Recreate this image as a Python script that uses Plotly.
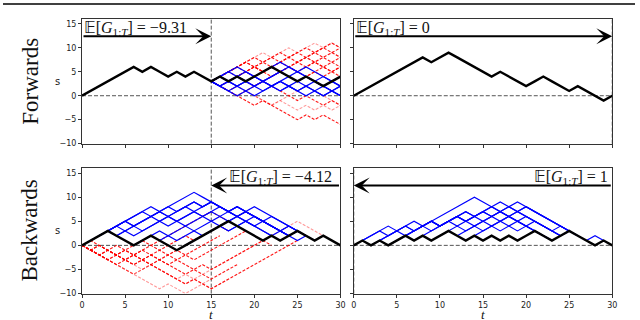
import plotly.graph_objects as go

# ---- data ----
# Forwards, left panel: realised path t=0..30 (t>15 is the rollout kept)
fwd_black = [0, 1, 2, 3, 4, 5, 6, 5, 6, 5, 4, 5, 4, 5, 4, 3,
             4, 3, 4, 3, 4, 5, 6, 5, 4, 3, 4, 3, 2, 3, 4]
fwd_start = 15
fwd_blue = [
    [3, 4, 5, 4, 5, 4, 5, 6, 7, 6, 5, 4, 3, 2, 1, 0],
    [3, 2, 3, 2, 1, 0, 1, 2, 3, 2, 1, 0, 1, 0, 1, 0],
    [3, 2, 1, 2, 3, 4, 3, 2, 1, 2, 3, 4, 3, 2, 1, 2],
    [3, 4, 3, 2, 3, 2, 1, 2, 3, 4, 5, 4, 3, 2, 1, 0],
    [3, 2, 3, 4, 3, 4, 3, 4, 5, 4, 3, 2, 1, 0, 1, 2],
    [3, 4, 5, 6, 5, 4, 3, 2, 1, 2, 1, 2, 3, 4, 3, 2],
    [3, 2, 1, 0, 1, 2, 3, 2, 3, 2, 1, 2, 1, 2, 3, 4],
    [3, 4, 3, 4, 3, 2, 3, 4, 5, 6, 5, 6, 5, 4, 3, 2],
]
fwd_red = [
    [3, 4, 5, 6, 7, 8, 7, 8, 7, 8, 9, 8, 9, 10, 9, 10],
    [3, 4, 5, 6, 5, 6, 7, 6, 7, 8, 7, 8, 7, 6, 5, 6],
    [3, 2, 1, 0, 1, 2, 3, 4, 5, 6, 7, 6, 7, 8, 7, 8],
    [3, 2, 1, 0, -1, -2, -1, -2, -3, -4, -5, -4, -5, -4, -5, -6],
    [3, 4, 5, 6, 7, 6, 5, 6, 5, 4, 3, 4, 5, 4, 5, 4],
    [3, 4, 3, 4, 5, 4, 5, 6, 7, 6, 7, 8, 9, 8, 9, 8],
    [3, 4, 5, 4, 5, 6, 5, 4, 5, 6, 5, 6, 7, 6, 7, 6],
    [3, 4, 5, 6, 7, 6, 7, 8, 9, 8, 9, 10, 9, 10, 11, 10],
    [3, 2, 3, 4, 5, 6, 5, 6, 5, 6, 5, 4, 5, 6, 5, 6],
    [3, 2, 1, 2, 3, 2, 3, 2, 1, 0, -1, 0, -1, -2, -1, -2],
]
fwd_red_light = [
    [3, 4, 3, 2, 1, 0, -1, -2, -1, -2, -3, -2, -3, -2, -3, -2],
    [3, 4, 5, 6, 7, 8, 9, 8, 9, 10, 9, 10, 11, 10, 11, 10],
    [3, 2, 3, 4, 3, 4, 5, 6, 5, 6, 7, 8, 7, 8, 9, 8],
    [3, 2, 1, 2, 1, 0, -1, -2, -1, 0, 1, 2, 1, 0, -1, -2],
]

# Forwards, right panel
fwd_right_black = [0, 1, 2, 3, 4, 5, 6, 7, 8, 7, 8, 9, 8, 7, 6, 5, 4, 5, 4, 3,
                   2, 3, 4, 3, 2, 1, 2, 1, 0, -1, 0]

# Backwards, left panel
bwd_black = [0, 1, 2, 3, 2, 1, 0, 1, 2, 1, 0, -1, 0, 1, 2, 3, 4, 5, 4, 3,
             2, 1, 2, 1, 2, 3, 2, 1, 2, 1, 0]
bwd_blue_start = [1, 2, 3, 3, 6, 9, 2, 1, 4, 12]
bwd_blue = [
    [1, 2, 3, 4, 5, 6, 7, 8, 7, 8, 9, 10, 11, 10, 9, 8, 7, 6, 5, 4, 3, 2],
    [2, 3, 4, 5, 4, 5, 6, 7, 6, 7, 8, 9, 8, 9, 8, 7, 8, 7, 8, 7, 6, 5, 4, 3, 2, 1],
    [3, 2, 3, 4, 5, 6, 5, 6, 5, 6, 7, 6, 7, 6, 7, 8, 7, 6, 5, 4, 3, 2, 3, 2],
    [3, 4, 3, 2, 3, 4, 5, 4, 5, 4, 5, 6, 5, 6, 5, 6, 7, 6, 5, 4, 3, 2],
    [0, 1, 2, 3, 2, 3, 4, 3, 4, 5, 4, 5, 6, 5, 4, 5, 4, 3, 4, 3],
    [1, 2, 1, 2, 3, 2, 3, 4, 3, 4, 5, 4, 3, 2, 3, 4, 3],
    [2, 3, 4, 5, 6, 7, 6, 7, 8, 7, 8, 9, 8, 9, 8, 7, 8, 7, 6, 5, 4, 3, 2, 3, 2],
    [1, 2, 3, 4, 5, 4, 5, 6, 7, 6, 7, 8, 7, 8, 9, 8, 7, 6, 7, 6, 5, 4, 3, 2, 1, 2],
    [2, 3, 4, 3, 4, 5, 6, 5, 6, 7, 6, 7, 8, 7, 6, 7, 6, 5, 6, 5, 4, 3, 2],
    [0, 1, 2, 3, 4, 3, 4, 5, 6, 5, 4, 3, 2],
]
bwd_red = [
    [0, -1, -2, -3, -2, -3, -4, -3, -4, -5, -6, -7, -8, -7, -8, -9, -8, -7, -6, -5, -4, -3, -2, -1, 0, 1],
    [0, -1, 0, -1, -2, -1, -2, -3, -2, -3, -4, -3, -4, -5, -4, -5, -4, -3, -2, -1, 0, 1],
    [0, -1, -2, -1, 0, -1, 0, 1, 0, 1, 2, 3, 4, 5, 6, 7, 6, 5, 4, 3],
    [0, -1, -2, -1, -2, -1, -2, -1, 0, -1, 0, 1, 2, 1, 2, 3, 4, 3],
    [0, 1, 0, -1, -2, -3, -4, -3, -2, -3, -2, -1, -2, -3, -2, -1, 0, 1, 2, 3, 2, 1, 0],
    [0, -1, -2, -3, -4, -3, -2, -3, -4, -3, -4, -5, -6, -5, -6, -7, -6, -5, -4],
    [0, -1, 0, -1, -2, -3, -2, -1, -2, -1, -2, -3, -2, -1, 0, 1, 2],
]
bwd_red_light = [
    [0, -1, -2, -3, -4, -5, -6, -5, -4, -5, -6, -7, -8, -7, -6, -5, -4, -3, -2, -1, 0, 1, 2, 3, 4, 5, 4, 3, 2],
    [0, -1, -2, -3, -4, -5, -6, -7, -8, -9, -8, -9, -10, -9, -8, -7],
    [0, -1, -2, -3, -4, -5, -6, -5, -4, -3, -2, -1, 0, 1, 2, 3, 4, 5, 6, 7],
    [0, -1, -2, -3, -2, -3, -4, -5, -4, -5, -6, -7, -6, -7, -8, -9, -8, -7],
]

# Backwards, right panel
bwd_right_black = [0, 1, 0, 1, 0, 1, 2, 1, 2, 1, 2, 3, 2, 1, 2, 1, 2, 1, 2, 1,
                   2, 3, 2, 1, 2, 3, 2, 1, 0, 1, 0]
bwd_right_blue_start = [1, 4, 6, 1, 8, 10, 14, 27, 2, 3, 12]
bwd_right_blue = [
    [1, 2, 3, 4, 3, 4, 3, 4, 5, 6, 7, 8, 9, 10, 9, 8, 7, 6, 5, 4, 3, 2, 1],
    [0, 1, 2, 3, 4, 5, 4, 5, 6, 7, 6, 7, 8, 9, 8, 7, 6, 5, 4, 3, 2],
    [2, 3, 4, 5, 4, 5, 6, 5, 6, 7, 6, 7, 8, 9, 8, 7, 6, 5, 4, 3, 2],
    [1, 2, 3, 2, 3, 2, 3, 4, 3, 4, 5, 6, 5, 6, 5, 6, 7, 6, 5, 4, 5, 4, 3, 2, 3],
    [2, 3, 4, 5, 4, 5, 4, 5, 4, 5, 4, 3, 4, 3, 2, 1],
    [2, 3, 4, 3, 4, 3, 4, 3, 4, 5, 6, 5, 4, 3, 2],
    [2, 3, 4, 5, 6, 7, 8, 7, 6, 5, 4, 3],
    [1, 2, 1],
    [0, 1, 2, 3, 4, 3, 4, 5, 4, 5, 6, 7, 6, 7, 6, 7, 8, 7, 6, 5, 4, 3, 4, 3],
    [1, 2, 3, 4, 5, 4, 5, 4, 5, 6, 5, 6, 7, 8, 7, 6, 5, 4, 3, 2, 1],
    [2, 3, 4, 5, 6, 5, 6, 7, 8, 7, 6, 5, 4, 3, 2],
]

expectations = ["\u22129.31", "0", "\u22124.12", "1"]
arrow_from = [0, 0, 30, 30]
arrow_to = [15, 30, 15, 0]
row_names = ["Forwards", "Backwards"]

fig = go.Figure()


def add_path(k, start, vals, color, width, dash="solid", opacity=1.0):
    fig.add_trace(go.Scatter(
        x=list(range(start, start + len(vals))), y=vals, mode="lines",
        line=dict(color=color, width=width, dash=dash), opacity=opacity,
        xaxis="x" + ("" if k == 1 else str(k)), yaxis="y" + ("" if k == 1 else str(k)),
        hoverinfo="skip", showlegend=False))


DASH = "3px,1.6px"
# panel 1
for p in fwd_red_light:
    add_path(1, fwd_start, p, "#ff0000", 1.1, DASH, 0.4)
for p in fwd_red:
    add_path(1, fwd_start, p, "#ff0000", 1.1, DASH, 0.9)
for p in fwd_blue:
    add_path(1, fwd_start, p, "#0000ff", 1.2)
add_path(1, 0, fwd_black, "black", 2.4)
# panel 2
add_path(2, 0, fwd_right_black, "black", 2.4)
# panel 3
for p in bwd_red_light:
    add_path(3, 0, p, "#ff0000", 1.1, DASH, 0.4)
for p in bwd_red:
    add_path(3, 0, p, "#ff0000", 1.1, DASH, 0.9)
for s, p in zip(bwd_blue_start, bwd_blue):
    add_path(3, s, p, "#0000ff", 1.2)
add_path(3, 0, bwd_black, "black", 2.4)
# panel 4
for s, p in zip(bwd_right_blue_start, bwd_right_blue):
    add_path(4, s, p, "#0000ff", 1.2)
add_path(4, 0, bwd_right_black, "black", 2.4)

tickfont = dict(family="DejaVu Sans", size=8, color="#222")
xdom = [[0.125, 0.534], [0.555, 0.964]]
ydom = [[0.544, 0.941], [0.068, 0.466]]
yr = [[-10, 16.1], [-10, 16.0]]

layout = dict(width=640, height=320, margin=dict(l=0, r=0, t=0, b=0),
              plot_bgcolor="white", paper_bgcolor="white")
shapes, annotations = [], []
for k in range(1, 5):
    row, col = (k - 1) // 2, (k - 1) % 2
    sfx = "" if k == 1 else str(k)
    layout["xaxis" + sfx] = dict(
        domain=xdom[col], range=[0, 30], anchor="y" + sfx,
        tickvals=[0, 5, 10, 15, 20, 25, 30], showticklabels=(row == 1),
        ticks="outside", ticklen=3, tickcolor="#333", tickfont=tickfont,
        ticklabelstandoff=1,
        showline=True, mirror=True, linecolor="#333", linewidth=1,
        showgrid=False, zeroline=False)
    layout["yaxis" + sfx] = dict(
        domain=ydom[row], range=yr[row], anchor="x" + sfx,
        tickvals=[-10, -5, 0, 5, 10, 15], showticklabels=(col == 0),
        ticks="outside", ticklen=3, tickcolor="#333", tickfont=tickfont,
        showline=True, mirror=True, linecolor="#333", linewidth=1,
        showgrid=False, zeroline=False)
    # dashed zero line and dashed vertical at arrow tip
    shapes.append(dict(type="line", xref="x" + sfx + " domain", x0=0, x1=1,
                       yref="y" + sfx, y0=0, y1=0,
                       line=dict(color="#555", width=1, dash="4px,2px"), layer="below"))
    shapes.append(dict(type="line", xref="x" + sfx, x0=arrow_to[k - 1], x1=arrow_to[k - 1],
                       yref="y" + sfx + " domain", y0=0, y1=1,
                       line=dict(color="#555", width=1, dash="4px,2px"), layer="below"))
    # arrow
    annotations.append(dict(
        xref="x" + sfx, yref="y" + sfx, axref="x" + sfx, ayref="y" + sfx,
        x=arrow_to[k - 1], y=12.4, ax=arrow_from[k - 1], ay=12.4, text="",
        showarrow=True, arrowhead=3, arrowsize=1.4, arrowwidth=1.9,
        arrowcolor="black", standoff=0))
    # expectation text
    annotations.append(dict(
        xref="x" + sfx + " domain", yref="y" + sfx,
        x=0.0 if row == 0 else (0.975 if col == 0 else 0.99),
        xanchor="left" if row == 0 else "right",
        y=14.2, yanchor="middle", showarrow=False,
        text="<span style='font-family:DejaVu Sans'>\U0001D53C</span>"
             "[<i>G</i><sub>1:<i>T</i></sub>] = " + expectations[k - 1],
        font=dict(family="Liberation Serif, DejaVu Serif, serif", size=16, color="#111")))

for row in range(2):
    yc = (ydom[row][0] + ydom[row][1]) / 2
    annotations.append(dict(xref="paper", yref="paper", x=27 / 640, y=yc,
                            xanchor="center", yanchor="middle",
                            text=row_names[row], textangle=-90, showarrow=False,
                            font=dict(family="Liberation Serif, serif", size=23, color="#111")))
    annotations.append(dict(xref="paper", yref="paper", x=55 / 640, y=yc,
                            xanchor="center", yanchor="middle",
                            text="s", showarrow=False,
                            font=dict(family="DejaVu Sans", size=10, color="#222")))
for col in range(2):
    annotations.append(dict(xref="paper", yref="paper", x=(xdom[col][0] + xdom[col][1]) / 2,
                            y=1 / 320, xanchor="center", yanchor="middle",
                            text="<i>t</i>", showarrow=False, borderpad=0,
                            font=dict(family="Liberation Serif, serif", size=13, color="#111")))

# page rule at top
shapes.append(dict(type="line", xref="paper", yref="paper", x0=0, x1=1,
                   y0=1 - 4 / 320, y1=1 - 4 / 320, line=dict(color="black", width=1.5)))

layout["shapes"] = shapes
layout["annotations"] = annotations
fig.update_layout(**layout)
fig.write_html("out.html", config={"displayModeBar": False},
               post_script="document.body.style.margin='0px';")
